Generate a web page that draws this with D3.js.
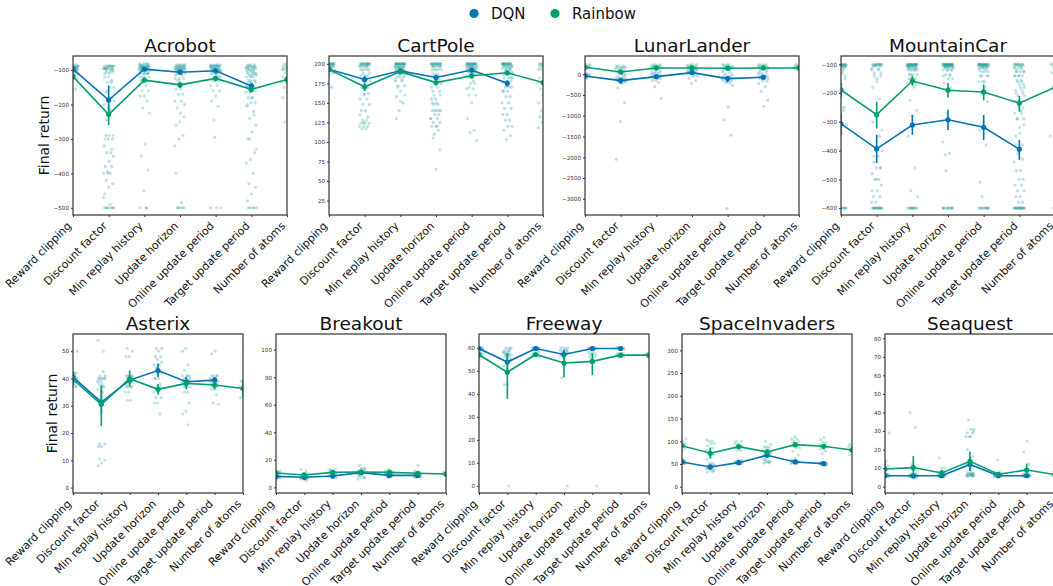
<!DOCTYPE html>
<html>
<head>
<meta charset="utf-8">
<script src="https://cdn.jsdelivr.net/npm/d3@7"></script>
<style>
  body { margin: 0; background: #fff; }
  svg { display: block; font-family: "DejaVu Sans", "Noto Sans", sans-serif; }
</style>
</head>
<body>
<svg id="chart" width="1053" height="586"></svg>
<script>
// ---------- shared categories and series ----------
const categories = ["Reward clipping", "Discount factor", "Min replay history", "Update horizon",
  "Online update period", "Target update period", "Number of atoms"];
const agents = ["DQN", "Rainbow"];
const agentColors = ["#0173B2", "#029E73"];

// Individual runs are stored as [value, count] pairs per hyperparameter group.

// ---------- Acrobot ----------
const acrobotDomain = [-521, -59];
const acrobotTicks = [-500, -400, -300, -200, -100];
const acrobotDqnMean = [-97, -187, -97, -106, -102, -146];
const acrobotDqnCI = [[-90, -104], [-145, -228], [-92, -102], [-100, -112], [-96, -108], [-138, -155]];
const acrobotDqnPts = [
  [[-85,3],[-90,5],[-95,5],[-100,4],[-105,3],[-110,2],[-120,1]],
  [[-88,4],[-95,4],[-100,3],[-110,2],[-130,1],[-160,1],[-190,1],[-215,1],[-290,1],[-300,2],[-320,1],[-340,2],[-350,1],[-365,1],[-380,2],[-395,1],[-400,2],[-420,1],[-430,1],[-440,1],[-460,1],[-500,3]],
  [[-82,4],[-88,5],[-93,5],[-98,4],[-103,3],[-110,2],[-120,1],[-500,1]],
  [[-85,5],[-92,5],[-98,5],[-105,3],[-115,2],[-130,1],[-200,1],[-225,1],[-260,1],[-290,1],[-300,1],[-320,1],[-485,1],[-500,3]],
  [[-85,5],[-90,5],[-96,4],[-102,3],[-110,2],[-120,1],[-295,1],[-500,1]],
  [[-85,3],[-92,4],[-100,4],[-110,4],[-120,3],[-135,3],[-150,2],[-165,2],[-180,2],[-195,2],[-205,1],[-220,1],[-240,1],[-260,1],[-280,1],[-300,1],[-340,1],[-360,1],[-370,1],[-400,1],[-430,1],[-440,1],[-460,1],[-480,1],[-500,3]]
];
const acrobotRainbowMean = [-119, -229, -129, -143, -124, -156, -127];
const acrobotRainbowCI = [[-112, -127], [-200, -260], [-122, -137], [-134, -152], [-116, -133], [-148, -165], [-118, -136]];
const acrobotRainbowPts = [
  [[-88,3],[-92,4],[-98,4],[-105,3],[-115,2],[-125,2],[-140,1],[-155,1],[-170,1]],
  [[-88,5],[-95,4],[-105,3],[-120,2],[-135,2],[-150,2],[-165,1],[-180,2],[-200,1],[-220,1],[-245,1],[-290,2],[-300,1],[-330,1],[-400,1],[-470,1],[-490,1],[-500,4]],
  [[-85,4],[-92,5],[-100,5],[-110,4],[-120,3],[-130,3],[-145,2],[-160,2],[-175,2],[-190,1],[-210,1],[-225,1],[-315,1],[-350,1],[-390,1],[-450,1],[-500,2]],
  [[-88,5],[-95,5],[-102,4],[-110,3],[-125,3],[-140,3],[-155,2],[-170,2],[-190,2],[-210,1],[-235,1],[-250,1],[-400,1],[-500,2]],
  [[-88,5],[-95,4],[-102,4],[-110,3],[-120,3],[-130,3],[-145,2],[-160,2],[-175,1],[-190,1],[-205,1],[-245,1],[-500,2]],
  [[-88,4],[-95,4],[-105,3],[-115,3],[-130,3],[-145,2],[-160,2],[-180,1],[-200,1],[-230,1],[-300,1],[-330,1],[-500,2]],
  [[-82,4],[-90,5],[-98,4],[-108,3],[-120,3],[-135,2],[-150,2],[-165,2],[-180,1],[-240,1],[-250,1],[-340,1],[-500,1]]
];

// ---------- CartPole ----------
const cartpoleDomain = [6.5, 210];
const cartpoleTicks = [25, 50, 75, 100, 125, 150, 175, 200];
const cartpoleDqnMean = [193, 180, 191, 182.5, 192, 175];
const cartpoleDqnCI = [[190, 196], [176, 184], [189, 193], [179, 186], [189, 195], [171, 179]];
const cartpoleDqnPts = [
  [[200,8],[197,4],[193,3],[188,2],[180,1],[170,1],[150,1]],
  [[200,6],[197,3],[192,2],[185,3],[178,2],[170,2],[162,2],[155,2],[148,2],[140,2],[132,1],[125,1]],
  [[200,8],[196,5],[192,4],[188,3],[183,3],[178,2],[172,2],[165,1],[158,1],[150,1],[140,1]],
  [[200,6],[197,3],[192,2],[185,2],[175,2],[165,2],[155,2],[148,2],[140,3],[135,2],[130,2],[125,2],[120,2],[115,1],[110,1]],
  [[200,8],[197,5],[194,4],[190,3],[185,2],[178,1],[170,1]],
  [[200,6],[197,3],[193,2],[188,2],[182,2],[176,2],[170,3],[165,2],[158,2],[150,2],[143,2],[135,2],[128,2],[120,2],[115,1],[108,1],[103,1]]
];
const cartpoleRainbowMean = [192.8, 170.6, 190, 176, 184.7, 188.5, 176];
const cartpoleRainbowCI = [[190, 195], [165, 176], [188, 192], [172, 180], [181, 188], [186, 191], [172, 180]];
const cartpoleRainbowPts = [
  [[200,8],[197,4],[194,3],[190,2],[185,1],[178,1]],
  [[200,8],[197,4],[193,3],[188,2],[180,2],[170,1],[160,1],[135,1],[128,2],[124,3],[120,3],[117,2]],
  [[200,10],[197,5],[194,4],[190,3],[186,2],[180,2],[170,1],[160,1],[152,1],[130,1]],
  [[200,8],[197,4],[193,3],[187,2],[180,2],[170,2],[160,2],[150,2],[140,2],[130,1],[120,1],[105,1],[90,1],[65,1]],
  [[200,8],[197,4],[193,3],[188,3],[182,2],[175,2],[168,2],[160,2],[150,1],[130,1],[115,1],[112,1],[102,1]],
  [[200,10],[197,5],[194,4],[190,3],[186,3],[182,2],[178,2],[172,1],[165,1]],
  [[200,8],[197,4],[193,3],[188,2],[182,2],[176,2],[168,2],[160,2],[150,2],[140,2],[132,2],[125,2],[118,2]]
];

// ---------- LunarLander ----------
const lunarDomain = [-3390, 440];
const lunarTicks = [-3000, -2500, -2000, -1500, -1000, -500, 0];
const lunarDqnMean = [-40, -152, -56, 40, -104, -72];
const lunarDqnCI = [[-60, -20], [-230, -90], [-90, -25], [20, 60], [-200, -50], [-120, -40]];
const lunarDqnPts = [
  [[30,2],[0,3],[-30,4],[-60,3],[-100,2],[-280,1]],
  [[50,2],[0,2],[-50,2],[-100,3],[-150,4],[-180,3],[-220,1],[-330,1],[-680,1],[-1140,1],[-2050,1]],
  [[60,2],[20,3],[-20,3],[-60,3],[-100,3],[-150,2],[-200,1],[-300,1],[-580,1]],
  [[120,2],[90,3],[60,3],[30,3],[0,2],[-50,2],[-100,1],[-150,1],[-220,1]],
  [[50,2],[0,2],[-50,3],[-100,4],[-150,3],[-200,2],[-270,1],[-790,1],[-1100,1],[-1470,1],[-3230,1]],
  [[50,2],[10,2],[-30,3],[-70,4],[-110,3],[-160,2],[-220,1],[-300,1],[-410,1],[-630,1],[-770,1]]
];
const lunarRainbowMean = [168, 56, 152, 152, 144, 152, 152];
const lunarRainbowCI = [[150, 185], [20, 90], [140, 165], [140, 165], [130, 158], [140, 165], [140, 165]];
const lunarRainbowPts = [
  [[240,2],[210,3],[180,4],[150,3],[120,2]],
  [[200,3],[170,4],[140,3],[100,2],[50,2],[0,1],[-100,3],[-130,2]],
  [[230,3],[200,4],[170,4],[140,3],[110,2],[80,1]],
  [[230,3],[200,4],[170,4],[140,3],[110,2]],
  [[230,3],[200,4],[170,4],[140,3],[110,2]],
  [[230,3],[200,4],[170,4],[140,3],[110,2]],
  [[240,3],[200,4],[170,4],[140,3],[100,2],[-50,1]]
];

// ---------- MountainCar ----------
const mountainDomain = [-624, -71];
const mountainTicks = [-600, -500, -400, -300, -200, -100];
const mountainDqnMean = [-307, -394, -311, -293, -319, -395];
const mountainDqnCI = [[-270, -345], [-345, -443], [-276, -345], [-258, -328], [-276, -363], [-363, -432]];
const mountainDqnPts = [
  [[-100,5],[-105,4],[-110,3],[-120,2],[-140,2],[-170,1],[-200,1],[-250,1],[-280,1],[-310,1],[-340,1],[-370,1],[-600,6]],
  [[-100,4],[-105,3],[-115,2],[-130,2],[-150,1],[-300,1],[-350,1],[-400,2],[-420,1],[-440,1],[-460,2],[-480,1],[-500,2],[-520,1],[-540,1],[-560,2],[-580,2],[-600,8]],
  [[-100,6],[-105,5],[-112,3],[-120,3],[-135,2],[-150,2],[-170,1],[-600,6]],
  [[-100,8],[-105,5],[-112,3],[-120,2],[-140,2],[-470,1],[-600,6]],
  [[-100,6],[-105,4],[-112,3],[-120,2],[-140,2],[-160,1],[-510,1],[-600,6]],
  [[-100,3],[-110,2],[-125,2],[-140,2],[-160,2],[-180,2],[-200,2],[-230,2],[-260,1],[-290,2],[-320,1],[-350,1],[-380,1],[-410,1],[-440,1],[-470,2],[-500,2],[-520,2],[-540,2],[-560,2],[-580,2],[-600,10]]
];
const mountainRainbowMean = [-189, -275, -158, -190, -196, -235, -180];
const mountainRainbowCI = [[-165, -215], [-230, -323], [-140, -175], [-165, -215], [-170, -225], [-210, -265], [-160, -205]];
const mountainRainbowPts = [
  [[-100,6],[-105,4],[-115,3],[-130,2],[-150,2],[-180,1],[-220,1],[-260,1],[-600,3]],
  [[-100,5],[-105,3],[-120,2],[-140,2],[-160,1],[-180,1],[-220,1],[-280,1],[-330,1],[-390,1],[-420,1],[-460,1],[-500,1],[-540,1],[-600,5]],
  [[-100,8],[-105,5],[-112,4],[-120,3],[-135,2],[-150,2],[-165,1],[-180,1],[-225,1],[-260,1],[-280,1],[-350,1],[-460,1],[-540,1],[-560,1],[-600,4]],
  [[-100,8],[-105,5],[-110,4],[-120,3],[-135,2],[-150,2],[-165,1],[-180,1],[-270,1],[-370,1],[-410,1],[-415,1],[-600,4]],
  [[-100,8],[-105,5],[-112,3],[-125,3],[-140,2],[-160,2],[-180,1],[-200,1],[-230,1],[-300,1],[-330,1],[-380,1],[-560,1],[-600,4]],
  [[-100,5],[-105,4],[-115,3],[-125,3],[-140,3],[-155,2],[-170,2],[-190,2],[-210,2],[-230,2],[-250,2],[-270,2],[-290,1],[-310,1],[-340,1],[-380,1],[-430,1],[-600,5]],
  [[-100,6],[-110,3],[-130,2],[-260,1],[-350,1],[-460,1],[-600,3]]
];

// ---------- Asterix ----------
const asterixDomain = [-2, 56.3];
const asterixTicks = [0, 10, 20, 30, 40, 50];
const asterixDqnMean = [40.5, 31.3, 39.4, 42.9, 38.8, 39.4];
const asterixDqnCI = [[38.5, 42.5], [27, 36], [38, 41], [40.5, 45.5], [37.5, 40.5], [38.5, 40.5]];
const asterixDqnPts = [
  [[42,3],[41,3],[40,4],[39,3],[38,2],[37,1]],
  [[42.5,1],[41,2],[40,3],[39,2],[37,1],[16,2],[15,2]],
  [[41,3],[40,3],[39,3],[38,2],[37,2]],
  [[51,1],[50,1],[48,2],[47,1],[45,2],[44,1],[42,2],[40,1],[38,1]],
  [[41,2],[40,2],[39,3],[38,2],[37,2]],
  [[41,2],[40,3],[39,3],[38,2]]
];
const asterixRainbowMean = [39.6, 30.5, 39.9, 36, 38.2, 37.6, 36.3];
const asterixRainbowCI = [[37.5, 42], [22.5, 37.5], [37, 43], [34, 38], [36, 40.5], [36, 39], [33, 39.5]];
const asterixRainbowPts = [
  [[50,1],[42,2],[40,3],[39,3],[38,2],[37,2],[36,1]],
  [[54,1],[50,1],[40,2],[38,2],[37,2],[36,1],[35,1],[10.5,1],[10,1],[9,1],[8,1]],
  [[51,1],[50,1],[48,2],[41,2],[39,2],[37,2],[35,2],[32,2]],
  [[51,1],[46,1],[40,2],[37,2],[35,2],[33,2],[31,2],[27,1]],
  [[51,1],[50,1],[45,1],[43,1],[41,2],[39,2],[37,2],[35,2],[31,1],[28,1],[27,1],[23,1]],
  [[50,1],[49,1],[41,2],[39,2],[37,2],[36,2],[34,1],[31,1],[30.5,1]],
  [[50,1],[39,2],[37,2],[36,2],[34,2],[33,1]]
];

// ---------- Breakout ----------
const breakoutDomain = [-4.1, 111.4];
const breakoutTicks = [0, 20, 40, 60, 80, 100];
const breakoutDqnMean = [8, 7.3, 8.2, 10.7, 8.7, 8.7];
const breakoutDqnCI = [[7, 9], [6.4, 8.2], [7.3, 9.1], [9.5, 11.9], [7.8, 9.6], [7.8, 9.6]];
const breakoutDqnPts = [
  [[9,2],[8,3],[7,3],[6,2]],
  [[8,2],[7,3],[6,3],[5,1]],
  [[9,2],[8,3],[7,2]],
  [[13,2],[11,3],[10,2],[8,1],[7,1]],
  [[10,2],[9,3],[8,2],[7,1]],
  [[9,2],[8,3],[7,2]]
];
const breakoutRainbowMean = [10.4, 9, 10.9, 11.1, 10.9, 10.2, 9.7];
const breakoutRainbowCI = [[9.2, 11.6], [7.8, 10.3], [9.8, 12], [9.5, 12.8], [9.9, 11.9], [9, 11.4], [8.5, 10.9]];
const breakoutRainbowPts = [
  [[12,2],[11,2],[10,3],[9,2],[8,1]],
  [[13,1],[12,1],[10,2],[9,2],[8,2],[7,1]],
  [[13,2],[12,2],[11,2],[10,2],[9,1]],
  [[16,1],[14,2],[12,2],[11,2],[9,2],[7,2],[6,1]],
  [[13,1],[12,2],[11,3],[10,2],[9,1]],
  [[16,1],[12,1],[11,2],[10,3],[9,2],[8,1]],
  [[11,2],[10,3],[9,2],[7,1],[5,1]]
];

// ---------- Freeway ----------
const freewayDomain = [-3.1, 66];
const freewayTicks = [0, 10, 20, 30, 40, 50, 60];
const freewayDqnMean = [59.7, 53.8, 59.7, 57.1, 59.7, 59.7];
const freewayDqnCI = [[59.4, 60], [50, 57], [59.4, 60], [55, 59], [59.4, 60], [59.4, 60]];
const freewayDqnPts = [
  [[60,5],[59.5,3],[59,2]],
  [[60,3],[59,3],[58,2],[57,2],[55,1],[44,2]],
  [[60,5],[59.5,3],[59,2]],
  [[60,3],[59,4],[58,2],[56,1]],
  [[60,5],[59.5,3]],
  [[60,5],[59.5,3]]
];
const freewayRainbowMean = [57, 49.4, 57.1, 53.4, 54.1, 56.8, 56.8];
const freewayRainbowCI = [[56.5, 57.5], [37.8, 57.7], [56.5, 57.5], [47.2, 57.5], [48.1, 57.5], [56.3, 57.3], [56.3, 57.3]];
const freewayRainbowPts = [
  [[58,2],[57,4],[56,3],[55,1]],
  [[58,2],[57,3],[56,2],[55,1],[52,1],[0,1]],
  [[58,2],[57,4],[56,2]],
  [[58,2],[57,3],[56,2],[55,1],[47,1],[0,1]],
  [[58,3],[57,3],[56,2],[55,1],[0,1]],
  [[57.5,3],[57,3],[56,3]],
  [[57.5,3],[57,3],[56,3]]
];

// ---------- SpaceInvaders ----------
const spaceDomain = [-14, 336];
const spaceTicks = [0, 50, 100, 150, 200, 250, 300];
const spaceDqnMean = [54.3, 43.3, 52.8, 69, 54.3, 50.6];
const spaceDqnCI = [[51, 57], [38, 48], [50, 56], [64, 73], [52, 57], [49, 52]];
const spaceDqnPts = [
  [[60,2],[57,2],[55,3],[52,2],[50,2]],
  [[52,2],[48,2],[45,3],[40,3],[36,2],[33,2]],
  [[58,2],[55,3],[52,3],[50,2]],
  [[75,2],[70,3],[67,2],[60,1],[55,2],[52,2]],
  [[57,2],[55,3],[53,3],[51,2]],
  [[53,3],[51,3],[49,2],[48,2]]
];
const spaceRainbowMean = [90.2, 73.4, 88, 76.3, 92.4, 88.8, 80.7];
const spaceRainbowCI = [[85, 95], [62, 86], [84, 92], [70, 82], [87, 98], [84, 94], [74, 87]];
const spaceRainbowPts = [
  [[105,1],[100,1],[95,2],[90,3],[85,2],[80,1]],
  [[103,1],[100,2],[95,2],[90,1],[85,1],[80,2],[75,2],[70,1],[65,1],[60,1]],
  [[100,2],[95,2],[90,3],[85,2],[80,2]],
  [[100,1],[93,1],[88,2],[85,2],[80,2],[75,2],[70,1],[60,1],[55,2]],
  [[110,1],[105,2],[100,2],[95,2],[90,2],[85,2],[78,1],[70,1],[62,1],[58,1]],
  [[108,1],[103,1],[98,2],[93,2],[88,2],[83,2],[78,1],[73,1]],
  [[100,1],[93,2],[88,2],[82,2],[78,2],[70,1],[60,1]]
];

// ---------- Seaquest ----------
const seaquestDomain = [-3.4, 82.3];
const seaquestTicks = [0, 10, 20, 30, 40, 50, 60, 70, 80];
const seaquestDqnMean = [5.9, 5.9, 5.9, 12, 5.9, 5.9];
const seaquestDqnCI = [[5.5, 6.3], [5.5, 6.3], [5.5, 6.3], [8.5, 16], [5.5, 6.3], [5.5, 6.3]];
const seaquestDqnPts = [
  [[6.5,3],[6,4],[5.5,3]],
  [[6.5,2],[6,4],[5.5,3],[5,2],[4.5,1]],
  [[6.5,3],[6,4],[5.5,3]],
  [[31,2],[29,2],[27,2],[7,3],[6.5,3],[6,3],[5.5,2]],
  [[6.5,3],[6,4],[5.5,3]],
  [[6.5,3],[6,4],[5.5,3]]
];
const seaquestRainbowMean = [9.5, 10.3, 7.4, 13.7, 6.7, 9, 6.5];
const seaquestRainbowCI = [[6.5, 14], [5.5, 16.5], [6, 9], [9, 19], [6, 7.5], [6.5, 12.5], [6, 7]];
const seaquestRainbowPts = [
  [[29,1],[14,1],[11,2],[9,2],[7,2],[6,2]],
  [[40,1],[32,1],[12,1],[9,2],[7,2],[6,2],[5,1]],
  [[15.5,1],[10,2],[8,2],[7,2],[6,2]],
  [[36,1],[30,1],[27,1],[20,1],[16,1],[12,2],[8,2],[7,2],[6,2]],
  [[14.5,1],[8,2],[7,2],[6,2]],
  [[24.5,1],[18.5,1],[12,1],[9,2],[7,2],[6,2]],
  [[8,2],[7,2],[6,2]]
];

// ---------- panel table ----------
const panels = [
  { title: "Acrobot", domain: acrobotDomain, ticks: acrobotTicks,
    series: [[acrobotDqnMean, acrobotDqnCI, acrobotDqnPts], [acrobotRainbowMean, acrobotRainbowCI, acrobotRainbowPts]] },
  { title: "CartPole", domain: cartpoleDomain, ticks: cartpoleTicks,
    series: [[cartpoleDqnMean, cartpoleDqnCI, cartpoleDqnPts], [cartpoleRainbowMean, cartpoleRainbowCI, cartpoleRainbowPts]] },
  { title: "LunarLander", domain: lunarDomain, ticks: lunarTicks,
    series: [[lunarDqnMean, lunarDqnCI, lunarDqnPts], [lunarRainbowMean, lunarRainbowCI, lunarRainbowPts]] },
  { title: "MountainCar", domain: mountainDomain, ticks: mountainTicks,
    series: [[mountainDqnMean, mountainDqnCI, mountainDqnPts], [mountainRainbowMean, mountainRainbowCI, mountainRainbowPts]] },
  { title: "Asterix", domain: asterixDomain, ticks: asterixTicks,
    series: [[asterixDqnMean, asterixDqnCI, asterixDqnPts], [asterixRainbowMean, asterixRainbowCI, asterixRainbowPts]] },
  { title: "Breakout", domain: breakoutDomain, ticks: breakoutTicks,
    series: [[breakoutDqnMean, breakoutDqnCI, breakoutDqnPts], [breakoutRainbowMean, breakoutRainbowCI, breakoutRainbowPts]] },
  { title: "Freeway", domain: freewayDomain, ticks: freewayTicks,
    series: [[freewayDqnMean, freewayDqnCI, freewayDqnPts], [freewayRainbowMean, freewayRainbowCI, freewayRainbowPts]] },
  { title: "SpaceInvaders", domain: spaceDomain, ticks: spaceTicks,
    series: [[spaceDqnMean, spaceDqnCI, spaceDqnPts], [spaceRainbowMean, spaceRainbowCI, spaceRainbowPts]] },
  { title: "Seaquest", domain: seaquestDomain, ticks: seaquestTicks,
    series: [[seaquestDqnMean, seaquestDqnCI, seaquestDqnPts], [seaquestRainbowMean, seaquestRainbowCI, seaquestRainbowPts]] }
];

// ---------- layout ----------
const rows = [
  { lefts: [73, 329, 585, 841], width: 214, top: 56, bottom: 215, labelX: 44 },
  { lefts: [73, 276, 479, 682, 885], width: 170, top: 334, bottom: 493, labelX: 52 }
];
const frameColor = "#333";

const svg = d3.select("#chart");
const defs = svg.append("defs");

// legend
const legend = svg.append("g");
agents.forEach((name, i) => {
  const lx = [474, 555][i];
  legend.append("circle").attr("cx", lx).attr("cy", 13.5).attr("r", 4.6).attr("fill", agentColors[i]);
  legend.append("text").attr("x", lx + 17).attr("y", 19)
    .attr("font-size", 15).attr("fill", "#111").text(name);
});

let panelIndex = 0;
rows.forEach((row, r) => {
  row.lefts.forEach((left, k) => {
    const p = panels[panelIndex++];
    const right = left + row.width;
    const x = d3.scalePoint().domain(categories).range([left, right]).padding(0);
    const y = d3.scaleLinear().domain(p.domain).range([row.bottom, row.top]);
    const step = x.step();
    const clipId = "clip-" + p.title;
    defs.append("clipPath").attr("id", clipId)
      .append("rect").attr("x", left).attr("y", row.top)
      .attr("width", row.width).attr("height", row.bottom - row.top);

    const g = svg.append("g");
    const plot = g.append("g").attr("clip-path", `url(#${clipId})`);

    // jittered strips of individual runs
    p.series.forEach(([mean, ci, pts], s) => {
      const strip = plot.append("g").attr("fill", agentColors[s]).attr("fill-opacity", 0.25);
      pts.forEach((groups, c) => {
        const values = groups.flatMap(([v, n]) => d3.range(n).map(() => v));
        values.forEach((v, i) => {
          const j = (((i + 1) * 0.6180339887 + s * 0.37 + c * 0.11) % 1 - 0.5) * 0.3;
          strip.append("circle")
            .attr("cx", x(categories[c]) + j * step)
            .attr("cy", y(v))
            .attr("r", 1.6);
        });
      });
    });

    // means with confidence intervals
    p.series.forEach(([mean, ci], s) => {
      const col = agentColors[s];
      const line = d3.line().x((d, i) => x(categories[i])).y(d => y(d));
      plot.append("path").datum(mean).attr("d", line)
        .attr("fill", "none").attr("stroke", col).attr("stroke-width", 1.6);
      ci.forEach(([lo, hi], i) => {
        plot.append("line")
          .attr("x1", x(categories[i])).attr("x2", x(categories[i]))
          .attr("y1", y(lo)).attr("y2", y(hi))
          .attr("stroke", col).attr("stroke-width", 1.6);
      });
      mean.forEach((v, i) => {
        plot.append("circle").attr("cx", x(categories[i])).attr("cy", y(v))
          .attr("r", 2.6).attr("fill", col);
      });
    });

    // frame
    g.append("rect").attr("x", left).attr("y", row.top)
      .attr("width", row.width).attr("height", row.bottom - row.top)
      .attr("fill", "none").attr("stroke", frameColor).attr("stroke-width", 1.2);

    // y axis
    const ya = g.append("g").attr("transform", `translate(${left},0)`)
      .call(d3.axisLeft(y).tickValues(p.ticks).tickSize(2).tickPadding(2).tickFormat(d3.format("d")));
    ya.select(".domain").remove();
    ya.selectAll("line").attr("stroke", frameColor);
    ya.selectAll("text").attr("font-size", 5.6).attr("fill", "#333")
      .attr("font-family", "DejaVu Sans, sans-serif");

    // x axis with slanted labels
    const xa = g.append("g").attr("transform", `translate(0,${row.bottom})`)
      .call(d3.axisBottom(x).tickSize(2));
    xa.select(".domain").remove();
    xa.selectAll("line").attr("stroke", frameColor);
    xa.selectAll("text")
      .attr("y", 0).attr("dy", 0).attr("x", 0)
      .attr("text-anchor", "end")
      .attr("transform", "translate(-1.5,11.5) rotate(-45)")
      .attr("font-size", 11).attr("fill", "#111")
      .attr("font-family", "DejaVu Sans, sans-serif");

    // title
    g.append("text").attr("x", (left + right) / 2).attr("y", row.top - 4)
      .attr("text-anchor", "middle").attr("font-size", 18.5).attr("fill", "#111")
      .text(p.title);

    if (k === 0) {
      g.append("text")
        .attr("transform", `translate(${row.labelX},${(row.top + row.bottom) / 2}) rotate(-90)`)
        .attr("text-anchor", "middle").attr("dy", "0.35em")
        .attr("font-size", 14).attr("fill", "#111").text("Final return");
    }
  });
});
</script>
</body>
</html>
